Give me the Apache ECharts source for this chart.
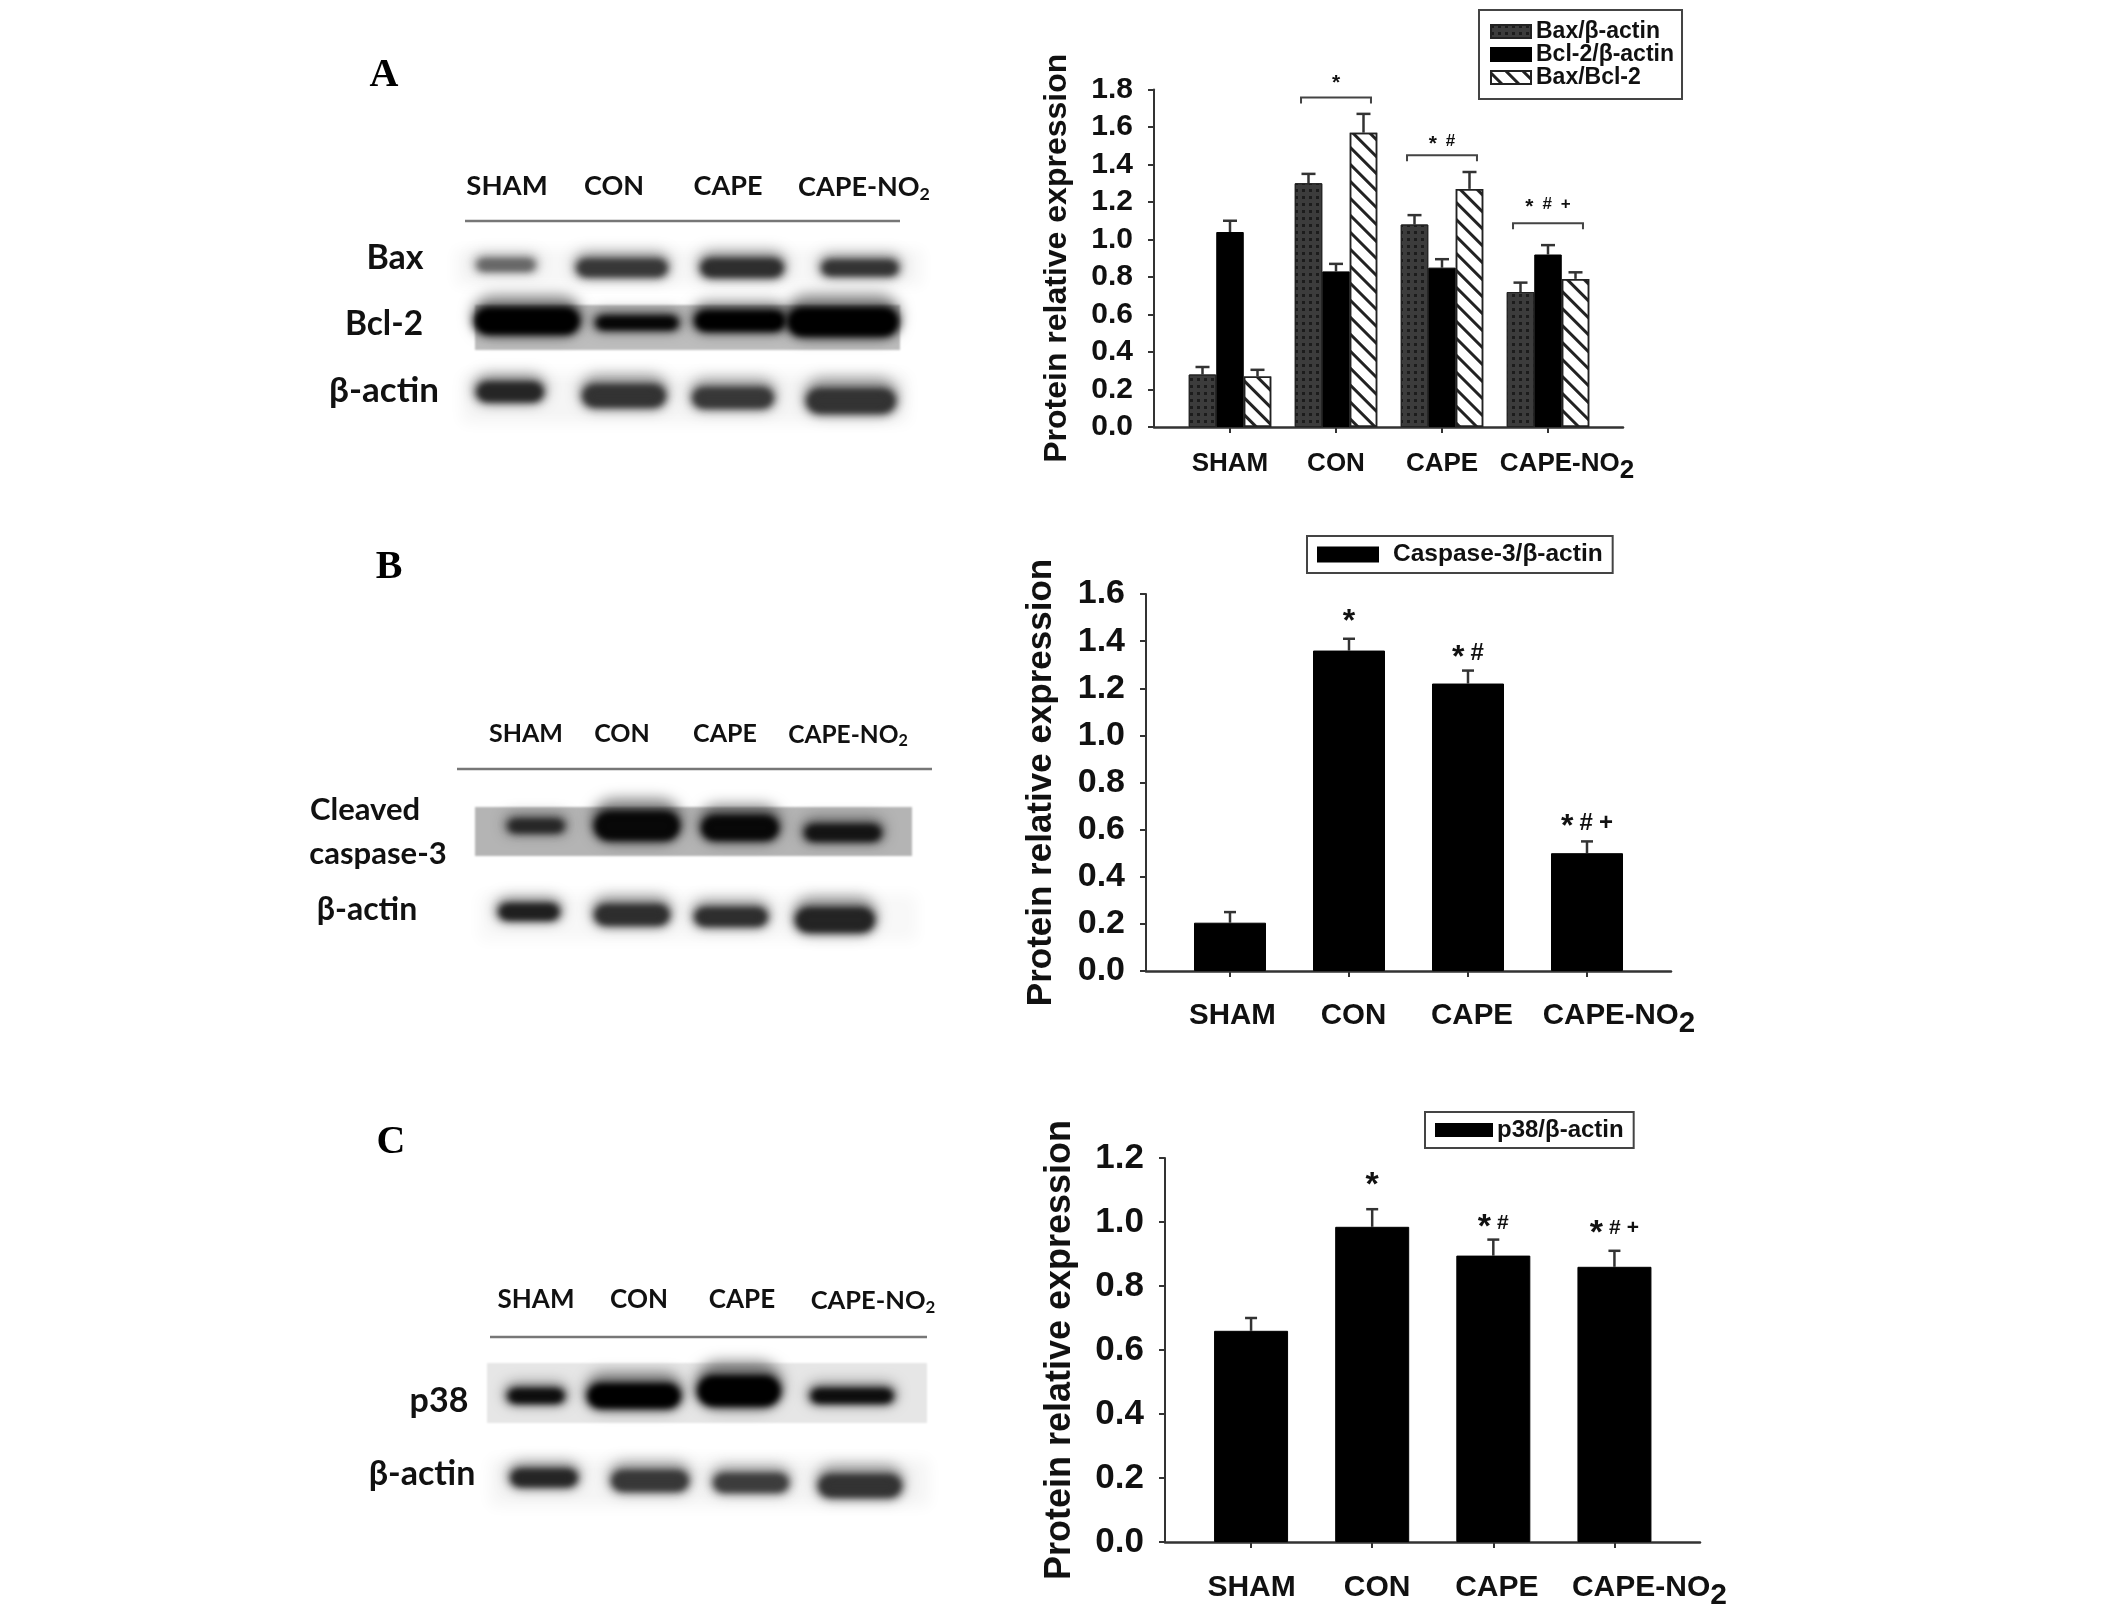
<!DOCTYPE html>
<html>
<head>
<meta charset="utf-8">
<style>html,body{margin:0;background:#fff}#chart{width:2126px;height:1614px}</style>
<script src="https://cdn.jsdelivr.net/npm/echarts@6/dist/echarts.min.js"></script>
</head>
<body>
<div id="chart"></div>
<script>
// chart values
const categories = ["SHAM", "CON", "CAPE", "CAPE-NO2"];

const baxValues = [0.28, 1.30, 1.08, 0.72];
const baxTops = [0.32, 1.35, 1.13, 0.77];
const bcl2Values = [1.04, 0.83, 0.85, 0.92];
const bcl2Tops = [1.10, 0.87, 0.895, 0.97];
const ratioValues = [0.27, 1.57, 1.27, 0.79];
const ratioTops = [0.305, 1.67, 1.36, 0.825];
const caspaseValues = [0.205, 1.36, 1.22, 0.50];
const caspaseTops = [0.25, 1.41, 1.275, 0.55];
const p38Values = [0.66, 0.985, 0.895, 0.86];
const p38Tops = [0.70, 1.04, 0.945, 0.91];

const marksA = ["", "*", "* #", "* # +"];
const markHeightsA = [0, 1.85, 1.525, 1.19];
const bracketHeightsA = [null, 1.757, 1.45, 1.087];
const marksB = ["", "*", "* #", "* # +"];
const markHeightsB = [0, 1.50, 1.347, 0.628];
const marksC = ["", "*", "* #", "* # +"];
const markHeightsC = [0, 1.128, 0.997, 0.98];

// band darkness of the blots, per lane
const densityBax = [0.6, 0.78, 0.82, 0.8];
const densityBcl2 = [1, 0.98, 1, 1];
const densityActinA = [0.85, 0.8, 0.78, 0.8];
const densityCaspase = [0.85, 0.97, 0.97, 0.92];
const densityActinB = [0.88, 0.82, 0.82, 0.86];
const densityP38 = [0.95, 1, 1, 0.95];
const densityActinC = [0.85, 0.78, 0.76, 0.8];

// ---- layout ----
const SANS = '"Liberation Sans", Arial, sans-serif';
const BLOT = "Lato, sans-serif";
const INK = "#111";

const panels = [
  { frame: [1154, 1623], inner: [1177, 1601], top: 89.5, bottom: 427, max: 1.8, tick: 21, title: 32, gap: 81, axisFont: 30, catFont: 26, catMargin: 24, nudge: [0, 0, 0, 38] },
  { frame: [1146, 1671], inner: [1170.5, 1646.5], top: 594, bottom: 971, max: 1.6, tick: 21, title: 35, gap: 87, axisFont: 34, catFont: 29.5, catMargin: 30, nudge: [5, 9, 8, 64] },
  { frame: [1165, 1700], inner: [1190.5, 1675], top: 1158, bottom: 1542, max: 1.2, tick: 21, title: 36, gap: 87, axisFont: 35, catFont: 30, catMargin: 31, nudge: [1, 10, 7, 70] },
];

// strips: left, top, width, height, background
const strips = [
  [455, 249, 468, 37, "#f7f7f7"],
  [475, 305, 425, 45, "#bdbdbd"],
  [462, 374, 446, 49, "#f5f5f5"],
  [475, 807, 437, 49, "#b4b4b4"],
  [479, 894, 438, 47, "#f8f8f8"],
  [487, 1363, 440, 60, "#e6e6e6"],
  [490, 1459, 439, 47, "#f5f5f5"],
];
// bands: per strip, [centre x, centre y, width, height] per lane
const bandGeometry = [
  { d: densityBax, b: [[506, 265, 60, 10], [622, 268, 92, 15], [742, 268, 84, 16], [860, 268, 78, 13]] },
  { d: densityBcl2, b: [[527, 321, 106, 24], [637, 323, 84, 11], [740, 321, 92, 18], [843, 322, 112, 26]] },
  { d: densityActinA, b: [[510, 392, 68, 17], [624, 396, 84, 20], [733, 398, 82, 18], [851, 401, 90, 22]] },
  { d: densityCaspase, b: [[536, 826, 58, 11], [637, 826, 86, 26], [740, 828, 78, 22], [843, 833, 78, 14]] },
  { d: densityActinB, b: [[529, 912, 62, 14], [632, 915, 76, 18], [731, 917, 74, 16], [835, 920, 80, 22]] },
  { d: densityP38, b: [[536, 1396, 58, 12], [634, 1396, 94, 22], [739, 1391, 84, 28], [852, 1396, 84, 12]] },
  { d: densityActinC, b: [[544, 1478, 68, 15], [650, 1481, 78, 18], [751, 1483, 76, 16], [860, 1486, 84, 20]] },
];

// [text, x, y, size]
const blotLabels = [
  ["SHAM", 507, 186, 27.5], ["CON", 614, 186, 27], ["CAPE", 728, 186, 27], ["{a|CAPE-NO}{s|2}", 864, 187, 27],
  ["Bax", 395, 258, 34], ["Bcl-2", 384, 324, 33.5], ["β-actin", 384, 391, 35],
  ["SHAM", 526, 734, 25], ["CON", 622, 734, 25], ["CAPE", 725, 734, 25], ["{a|CAPE-NO}{s|2}", 848, 735, 24.5],
  ["Cleaved", 365, 810, 31], ["caspase-3", 378, 854, 31], ["β-actin", 367, 910, 32],
  ["SHAM", 536, 1300, 26], ["CON", 639, 1300, 26], ["CAPE", 742, 1300, 26], ["{a|CAPE-NO}{s|2}", 873, 1301, 25.5],
  ["p38", 439, 1401, 34], ["β-actin", 422, 1474, 34],
];
const panelLetters = [["A", 384, 76], ["B", 389, 568], ["C", 391, 1143]];
const headerRules = [[465, 900, 221], [457, 932, 769], [490, 927, 1337]];

const grids = [], xAxes = [], yAxes = [], series = [];

panels.forEach((p) => {
  const h = p.bottom - p.top;
  // outer grid carries the value axis and the long baseline
  grids.push({ left: p.frame[0], top: p.top, width: p.frame[1] - p.frame[0], height: h });
  xAxes.push({
    gridIndex: grids.length - 1, type: "value", min: 0, max: 1,
    axisLine: { show: true, onZero: false, lineStyle: { color: "#333", width: 2.5 } },
    axisTick: { show: false }, axisLabel: { show: false }, splitLine: { show: false },
  });
  yAxes.push({
    gridIndex: grids.length - 1, type: "value", min: 0, max: p.max, interval: 0.2,
    name: "Protein relative expression", nameLocation: "middle", nameGap: p.gap,
    nameTextStyle: { fontFamily: SANS, fontWeight: "bold", fontSize: p.title, color: INK },
    axisLine: { show: true, lineStyle: { color: "#333", width: 2 } },
    axisTick: { show: true, length: 6, lineStyle: { color: "#333", width: 2 } },
    splitLine: { show: false },
    axisLabel: { margin: p.tick, fontFamily: SANS, fontWeight: "bold", fontSize: p.axisFont, color: INK, formatter: (v) => v.toFixed(1) },
  });
  // inner grid holds the categories and the bars
  grids.push({ left: p.inner[0], top: p.top, width: p.inner[1] - p.inner[0], height: h });
  const drop = p.catFont * 0.26;
  const rich = {
    a: { fontFamily: SANS, fontWeight: "bold", fontSize: p.catFont, color: INK, padding: [0, 0, drop, 0] },
    s: { fontFamily: SANS, fontWeight: "bold", fontSize: p.catFont, color: INK, padding: [drop, 0, 0, 0] },
  };
  p.nudge.forEach((n, i) => {
    rich["p" + i] = { width: n, fontSize: p.catFont, padding: [0, 0, drop, 0] };
  });
  xAxes.push({
    gridIndex: grids.length - 1, type: "category", data: categories,
    axisLine: { show: false },
    axisTick: { show: true, alignWithLabel: true, length: 6, lineStyle: { color: "#333", width: 2 } },
    axisLabel: {
      interval: 0, margin: p.catMargin, fontFamily: SANS, fontWeight: "bold", fontSize: p.catFont, color: INK,
      formatter: (v, i) => {
        const pad = p.nudge[i] ? `{p${i}| }` : "";
        return pad + (v === "CAPE-NO2" ? "{a|CAPE-NO}{s|2}" : `{a|${v}}`);
      },
      rich,
    },
  });
  yAxes.push({ gridIndex: grids.length - 1, type: "value", min: 0, max: p.max, interval: 0.2, show: false, splitLine: { show: false } });
});

function barSeries(name, axis, values, style, width) {
  series.push({
    name, type: "bar", xAxisIndex: axis, yAxisIndex: axis, data: values,
    barWidth: width, barGap: 0, itemStyle: style, z: 3,
  });
}

function errorSeries(axis, values, tops, offset, capHalf) {
  series.push({
    type: "custom", xAxisIndex: axis, yAxisIndex: axis, z: 2,
    encode: { x: 0, y: [1, 2] },
    data: values.map((v, i) => [i, v, tops[i]]),
    renderItem(params, api) {
      const a = api.coord([api.value(0), api.value(1)]);
      const b = api.coord([api.value(0), api.value(2)]);
      const x = a[0] + offset;
      const style = { stroke: "#333", lineWidth: 2.5, fill: null };
      return {
        type: "group",
        children: [
          { type: "line", shape: { x1: x, y1: a[1], x2: x, y2: b[1] }, style },
          { type: "line", shape: { x1: x - capHalf, y1: b[1], x2: x + capHalf, y2: b[1] }, style },
        ],
      };
    },
  });
}

function markSeries(axis, marks, heights, big, small, gap) {
  series.push({
    type: "custom", xAxisIndex: axis, yAxisIndex: axis, z: 4,
    encode: { x: 0, y: 1 },
    data: heights.map((v, i) => [i, v]),
    renderItem(params, api) {
      const at = api.coord([api.value(0), api.value(1)]);
      const text = marks[params.dataIndex]
        .replace("*", "{st|*}").replace("#", "{sm|#}").replace("+", "{sm|+}").replace(/ /g, "{g| }");
      if (!text) return null;
      return {
        type: "text", x: at[0], y: at[1],
        style: {
          text, align: "center", verticalAlign: "middle", fill: INK,
          rich: {
            st: { font: `bold ${big}px ${SANS}`, fill: INK, padding: [big * 0.28, 0, 0, 0] },
            sm: { font: `bold ${small}px ${SANS}`, fill: INK },
            g: { font: `bold ${small}px ${SANS}`, width: gap },
          },
        },
      };
    },
  });
}

function bracketSeries(axis, heights) {
  series.push({
    type: "custom", xAxisIndex: axis, yAxisIndex: axis, z: 4,
    encode: { x: 0, y: 1 },
    data: heights.map((v, i) => (v === null ? [i, "-"] : [i, v])),
    renderItem(params, api) {
      const at = api.coord([api.value(0), api.value(1)]);
      const half = api.size([1, 0])[0] * 0.33;
      return {
        type: "polyline",
        shape: { points: [[at[0] - half, at[1] + 6], [at[0] - half, at[1]], [at[0] + half, at[1]], [at[0] + half, at[1] + 6]] },
        style: { stroke: "#444", lineWidth: 2, fill: null },
      };
    },
  });
}

const solid = { color: "#000", borderColor: "#000", borderWidth: 1 };
const dotted = {
  color: "#3c3c3c", borderColor: "#222", borderWidth: 1,
  decal: { symbol: "rect", symbolSize: 1, color: "#1c1c1c", dashArrayX: [3, 4], dashArrayY: [3, 4], rotation: 0 },
};
const hatched = {
  color: "#fff", borderColor: "#222", borderWidth: 1.5,
  decal: { symbol: "rect", symbolSize: 1, color: "#222", dashArrayX: [1, 0], dashArrayY: [2.5, 9], rotation: Math.PI / 4 },
};

// panel A
barSeries("Bax/β-actin", 1, baxValues, dotted, 27.5);
barSeries("Bcl-2/β-actin", 1, bcl2Values, solid, 27.5);
barSeries("Bax/Bcl-2", 1, ratioValues, hatched, 27.5);
errorSeries(1, baxValues, baxTops, -27.5, 7);
errorSeries(1, bcl2Values, bcl2Tops, 0, 7);
errorSeries(1, ratioValues, ratioTops, 27.5, 7);
bracketSeries(1, bracketHeightsA);
markSeries(1, marksA, markHeightsA, 21, 17, 9);
// panel B
barSeries("Caspase-3/β-actin", 3, caspaseValues, solid, 72);
errorSeries(3, caspaseValues, caspaseTops, 0, 6);
markSeries(3, marksB, markHeightsB, 32, 24, 6);
// panel C
barSeries("p38/β-actin", 5, p38Values, solid, 74);
errorSeries(5, p38Values, p38Tops, 0, 6);
markSeries(5, marksC, markHeightsC, 34, 21, 6);

// blots: hidden page-sized grid
grids.push({ left: 0, top: 0, right: 0, bottom: 0 });
const blotAxis = grids.length - 1;
xAxes.push({ gridIndex: blotAxis, type: "value", min: 0, max: 2126, show: false, splitLine: { show: false } });
yAxes.push({ gridIndex: blotAxis, type: "value", min: 0, max: 1614, inverse: true, show: false, splitLine: { show: false } });

// only the shadow of each rect lands on the page, which gives a soft band
const THROW = 3000;
function softRect(x, y, w, h, color, blur, r) {
  return {
    type: "rect",
    shape: { x: x - THROW, y, width: w, height: h, r: r === undefined ? h / 2 : r },
    style: { fill: "#000", shadowBlur: blur, shadowColor: color, shadowOffsetX: THROW },
  };
}

series.push({
  type: "custom", xAxisIndex: blotAxis, yAxisIndex: blotAxis, z: 0, silent: true,
  encode: { x: [0, 2], y: [1, 3] },
  data: strips.map((s) => [s[0], s[1], s[0] + s[2], s[1] + s[3]]),
  renderItem(params, api) {
    const a = api.coord([api.value(0), api.value(1)]);
    const b = api.coord([api.value(2), api.value(3)]);
    const fill = strips[params.dataIndex][4];
    // pale strips fade out at the edges, the grey ones keep a cut edge
    const blur = parseInt(fill.slice(1, 3), 16) > 0xf0 ? 14 : 2;
    return softRect(a[0], a[1], b[0] - a[0], b[1] - a[1], fill, blur, 0);
  },
});

const bandData = [];
bandGeometry.forEach((g) => g.b.forEach((b, i) => bandData.push([b[0], b[1], b[2], b[3], g.d[i]])));
series.push({
  type: "custom", xAxisIndex: blotAxis, yAxisIndex: blotAxis, z: 1, silent: true,
  encode: { x: 0, y: 1 },
  data: bandData,
  renderItem(params, api) {
    const c = api.coord([api.value(0), api.value(1)]);
    const w = api.value(2), h = api.value(3), d = api.value(4);
    const g = Math.round(255 * (1 - d));
    const ink = `rgb(${g},${g},${g})`;
    const halo = `rgba(${g},${g},${g},0.5)`;
    return {
      type: "group",
      children: [
        softRect(c[0] - w / 2 - 2, c[1] - h * 1.05, w + 4, h * 1.7, halo, 14),
        softRect(c[0] - w / 2, c[1] - h / 2 - 1, w, h + 2, ink, 9),
        softRect(c[0] - w / 2 + 4, c[1] - h / 2 + 1, w - 8, Math.max(h - 2, 4), ink, 6),
      ],
    };
  },
});

const graphic = [];
blotLabels.forEach(([text, x, y, size]) => {
  graphic.push({
    type: "text", x, y, silent: true, z: 10,
    style: {
      text, align: "center", verticalAlign: "middle", fill: "#111",
      font: `bold ${size}px ${BLOT}`,
      rich: {
        a: { font: `bold ${size}px ${BLOT}`, fill: "#111" },
        s: { font: `bold ${size * 0.66}px ${BLOT}`, fill: "#111", padding: [size * 0.5, 0, 0, 0] },
      },
    },
  });
});
panelLetters.forEach(([text, x, y]) => {
  graphic.push({
    type: "text", x, y, silent: true, z: 10,
    style: { text, align: "center", verticalAlign: "middle", fill: "#000", font: 'bold 40px "Liberation Serif", serif' },
  });
});
headerRules.forEach(([x1, x2, y]) => {
  graphic.push({ type: "line", silent: true, z: 10, shape: { x1, y1: y, x2, y2: y }, style: { stroke: "#777", lineWidth: 2.5 } });
});

const legendBase = {
  orient: "vertical", icon: "rect", borderColor: "#444", borderWidth: 2, backgroundColor: "#fff",
  selectedMode: false, align: "left",
};

const chart = echarts.init(document.getElementById("chart"));
chart.setOption({
  animation: false,
  backgroundColor: "#fff",
  grid: grids,
  xAxis: xAxes,
  yAxis: yAxes,
  series,
  graphic,
  legend: [
    {
      ...legendBase, left: 1479, top: 10, padding: [10, 8, 10, 11], itemGap: 0, itemWidth: 40, itemHeight: 13,
      data: ["Bax/β-actin", "Bcl-2/β-actin", "Bax/Bcl-2"],
      textStyle: { fontFamily: SANS, fontWeight: "bold", fontSize: 23, color: INK, lineHeight: 23 },
    },
    {
      ...legendBase, left: 1307, top: 536, padding: [6, 10, 6, 10], itemWidth: 60, itemHeight: 14,
      data: ["Caspase-3/β-actin"],
      textStyle: { fontFamily: SANS, fontWeight: "bold", fontSize: 24.5, color: INK, padding: [0, 0, 0, 10] },
    },
    {
      ...legendBase, left: 1425, top: 1112, padding: [6, 10, 6, 10], itemWidth: 56, itemHeight: 12,
      data: ["p38/β-actin"],
      textStyle: { fontFamily: SANS, fontWeight: "bold", fontSize: 24, color: INK },
    },
  ],
});
</script>
</body>
</html>
